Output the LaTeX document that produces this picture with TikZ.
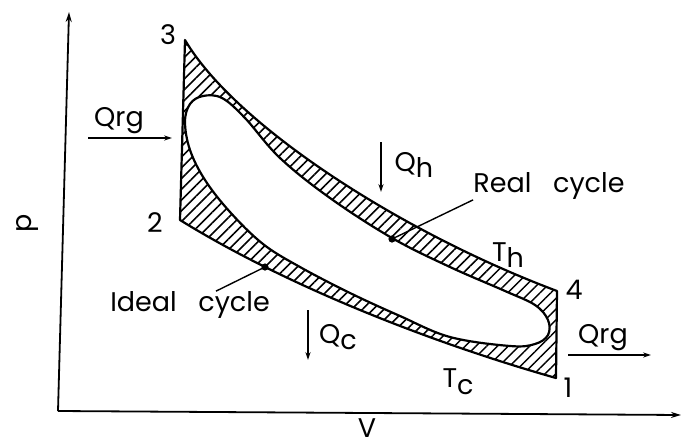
\documentclass[tikz,border=0pt]{standalone}
\usepackage{fontspec}
\setmainfont{Poppins}
\usetikzlibrary{arrows.meta, patterns.meta}
\newcommand{\subl}[1]{\raisebox{-0.45ex}{#1}}
\tikzset{
  axisArrow/.style={-{Stealth[length=5pt, width=3pt]}, line width=0.9pt},
  heatArrow/.style={-{Stealth[length=4pt, width=2.6pt]}, line width=0.8pt},
  cycleLine/.style={line width=1.1pt, line join=round},
  hatch/.style={pattern={Lines[angle=45, distance=3.8pt, line width=0.75pt]}},
  pointer/.style={line width=0.7pt},
  lbl/.style={font=\fontsize{13.5}{15}\selectfont, inner sep=0pt},
}

\begin{document}
\begin{tikzpicture}[x=0.5pt, y=-0.5pt]
  \useasboundingbox (0,0) rectangle (682,446);

  % corners of the ideal cycle
  \coordinate (s3) at (185,40);
  \coordinate (s2) at (180,220);
  \coordinate (s4) at (557,291);
  \coordinate (s1) at (556,378);

  % axes
  \coordinate (org) at (58,411);
  \coordinate (ptop) at (69,12);
  \coordinate (vend) at (681,415);
  \draw[axisArrow] (org) -- (ptop);
  \draw[axisArrow] (org) -- (vend);
  \node[lbl, rotate=90] (plab) at (27,223) {p};
  \node[lbl] (vlab) at (367,428) {V};

  % hatched area between ideal and real cycle
  \fill[hatch] (s3) .. controls (235,125) and (400,232) .. (s4) -- (s1)
    .. controls (436,344) and (290,288) .. (s2) -- cycle;
  \fill[white] plot[smooth cycle, tension=0.6] coordinates {
    (185,122) (190,104) (203,96) (222,98) (245,118) (280,158) (330,198)
    (392,238) (450,267) (505,291) (535,305) (548,320) (548,335) (535,344)
    (510,346) (450,337) (400,316) (350,293) (300,267) (263,244) (230,212)
    (205,180) (190,150)};
  \draw[cycleLine] plot[smooth cycle, tension=0.6] coordinates {
    (185,122) (190,104) (203,96) (222,98) (245,118) (280,158) (330,198)
    (392,238) (450,267) (505,291) (535,305) (548,320) (548,335) (535,344)
    (510,346) (450,337) (400,316) (350,293) (300,267) (263,244) (230,212)
    (205,180) (190,150)};
  \draw[cycleLine] (s3) .. controls (235,125) and (400,232) .. (s4) -- (s1)
    .. controls (436,344) and (290,288) .. (s2) -- cycle;

  % state points
  \node[lbl] (n3) at (168,35) {3};
  \node[lbl] (n2) at (155,223) {2};
  \node[lbl] (n4) at (574,290) {4};
  \node[lbl] (n1) at (568,388) {1};

  % heat flows
  \node[lbl] (qrgL) at (119,121) {Qrg};
  \coordinate (qlA) at (88,138);
  \coordinate (qlB) at (172,138);
  \draw[heatArrow] (qlA) -- (qlB);
  \node[lbl] (qrgR) at (603,338) {Qrg};
  \coordinate (qrA) at (568,355);
  \coordinate (qrB) at (651,355);
  \draw[heatArrow] (qrA) -- (qrB);
  \node[lbl] (qh) at (414,165) {Q\subl{h}};
  \coordinate (qhA) at (381,142);
  \coordinate (qhB) at (381,192);
  \draw[heatArrow] (qhA) -- (qhB);
  \node[lbl] (qc) at (338,337) {Q\subl{c}};
  \coordinate (qcA) at (308,310);
  \coordinate (qcB) at (308,360);
  \draw[heatArrow] (qcA) -- (qcB);

  % temperatures
  \node[lbl] (th) at (508,255) {T\subl{h}};
  \node[lbl] (tc) at (458,382) {T\subl{c}};

  % cycle labels
  \node[lbl] (real) at (549,186) {Real\hspace{0.8em}cycle};
  \coordinate (realDot) at (392,239);
  \fill (realDot) circle (1.8pt);
  \draw[pointer] (real.south west) -- (realDot);
  \node[lbl] (ideal) at (190,305) {Ideal\hspace{0.8em}cycle};
  \coordinate (idealDot) at (265,267);
  \fill (idealDot) circle (1.8pt);
  \draw[pointer] ([xshift=13pt]ideal.north) -- (idealDot);
\end{tikzpicture}
\end{document}
